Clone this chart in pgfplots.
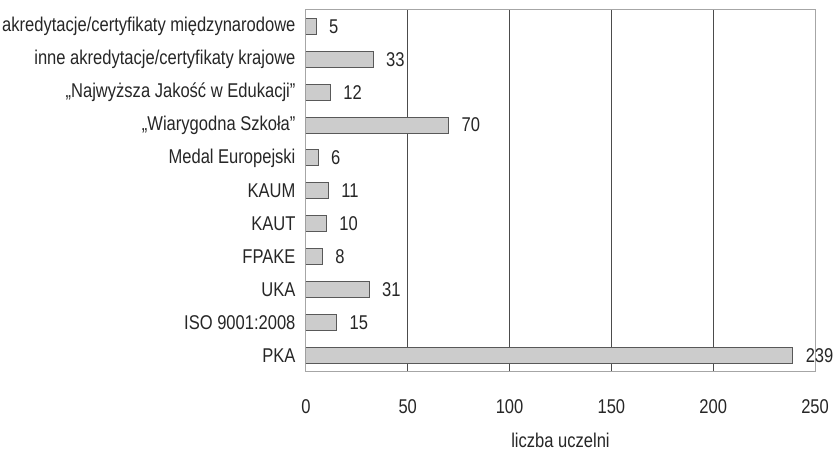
\documentclass[border=0pt]{standalone}
\usepackage{pgfplots}
\pgfplotsset{compat=1.18}
\usepackage{fontspec}
\setmainfont{Liberation Sans}[FakeStretch=0.83]
\begin{document}
\begin{tikzpicture}
\begin{axis}[
    name=ax,
    xbar,
    width=255.5pt, height=181.5pt,
    scale only axis,
    xmin=0, xmax=250,
    ymin=-0.5, ymax=10.5,
    y dir=reverse,
    xtick={0,50,...,250},
    ytick={0,...,10},
    yticklabels={akredytacje/certyfikaty międzynarodowe,
        inne akredytacje/certyfikaty krajowe,
        „Najwyższa Jakość w Edukacji”,
        „Wiarygodna Szkoła”,
        Medal Europejski, KAUM, KAUT, FPAKE, UKA, ISO 9001:2008, PKA},
    major tick length=0pt,
    xmajorgrids,
    grid style={draw=black!70, line width=0.5pt},
    axis line style={draw=black!35, line width=0.5pt},
    tick label style={font=\fontsize{10}{12}\selectfont, text=black!85},
    xticklabel style={anchor=center, yshift=-17.5pt},
    yticklabel style={anchor=east, xshift=-1.7pt},
    xlabel={liczba uczelni},
    xlabel style={at={(axis description cs:0.5,0)}, anchor=center, yshift=-34.5pt,
        font=\fontsize{10}{12}\selectfont, text=black!85},
    /pgf/number format/assume math mode=true,
    bar width=8pt,
    nodes near coords,
    nodes near coords style={anchor=west, xshift=3pt, font=\fontsize{10}{12}\selectfont, text=black!85},
]
\addplot[draw=black!65, line width=0.5pt, fill=black!20]
coordinates {
(5,0) (33,1) (12,2) (70,3) (6,4) (11,5) (10,6) (8,7) (31,8) (15,9) (239,10)
};
\end{axis}
\pgfresetboundingbox
\path ([xshift=-153.5pt,yshift=-40pt]ax.south west) rectangle ([xshift=9pt,yshift=5pt]ax.north east);
\end{tikzpicture}
\end{document}
